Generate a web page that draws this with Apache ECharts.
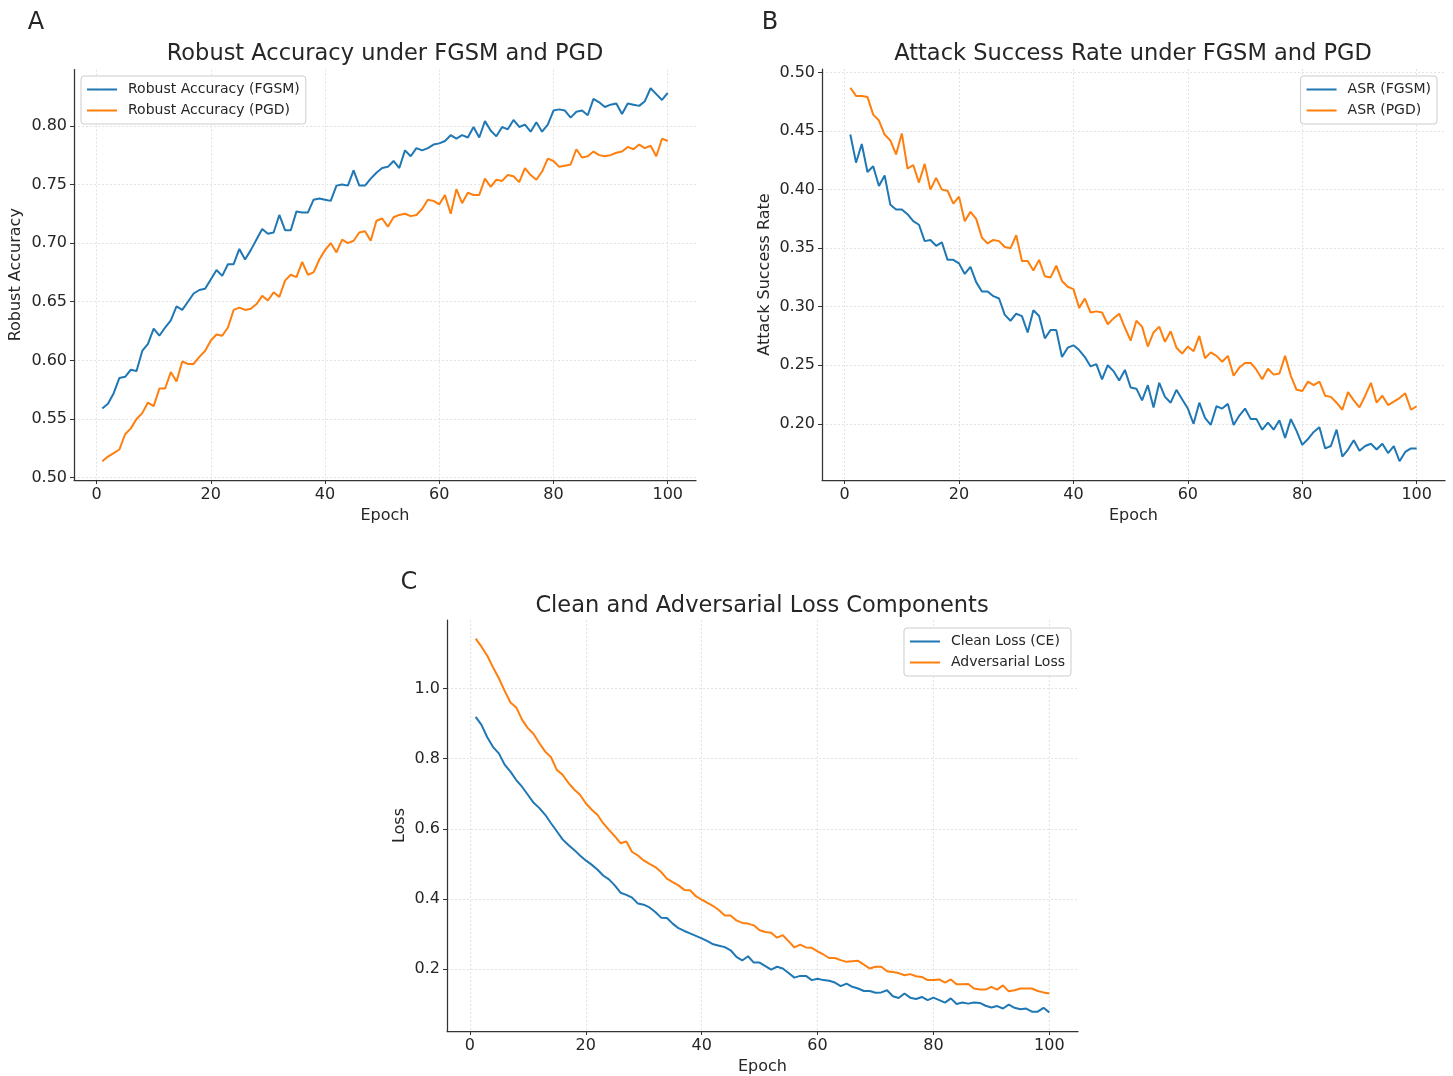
<!DOCTYPE html>
<html>
<head>
<meta charset="utf-8">
<script src="https://cdn.jsdelivr.net/npm/echarts@6/dist/echarts.min.js"></script>
<style>
html,body{margin:0;padding:0;background:#fff;}
#chart{width:1453px;height:1076px;}
</style>
</head>
<body>
<div id="chart"></div>
<script>
// ---------------- data ----------------
const epochs = Array.from({length: 100}, (_, i) => i + 1);

const robustFGSM = [
0.559,0.563,0.572,0.585,0.586,0.592,0.591,0.608,0.614,0.627,
0.621,0.628,0.634,0.646,0.643,0.650,0.657,0.660,0.661,0.669,
0.677,0.672,0.682,0.682,0.695,0.686,0.694,0.703,0.712,0.708,
0.709,0.724,0.711,0.711,0.727,0.726,0.726,0.737,0.738,0.737,
0.736,0.749,0.750,0.749,0.762,0.749,0.749,0.755,0.760,0.764,
0.765,0.770,0.764,0.779,0.774,0.781,0.779,0.781,0.784,0.785,
0.787,0.792,0.789,0.792,0.790,0.799,0.790,0.804,0.796,0.791,
0.799,0.797,0.805,0.799,0.801,0.795,0.803,0.795,0.801,0.813,
0.814,0.813,0.807,0.812,0.813,0.809,0.823,0.820,0.816,0.818,
0.819,0.810,0.819,0.818,0.817,0.821,0.832,0.827,0.822,0.828];

const robustPGD = [
0.514,0.518,0.521,0.524,0.537,0.542,0.550,0.555,0.564,0.561,
0.576,0.576,0.590,0.582,0.599,0.597,0.597,0.603,0.608,0.617,
0.622,0.621,0.628,0.643,0.645,0.643,0.644,0.648,0.655,0.651,
0.658,0.654,0.668,0.673,0.671,0.684,0.673,0.675,0.686,0.694,
0.700,0.692,0.703,0.700,0.702,0.709,0.710,0.702,0.719,0.721,
0.714,0.722,0.724,0.725,0.723,0.724,0.729,0.737,0.736,0.733,
0.741,0.725,0.746,0.734,0.743,0.741,0.741,0.755,0.748,0.754,
0.753,0.758,0.757,0.752,0.764,0.758,0.754,0.761,0.772,0.770,
0.765,0.766,0.767,0.780,0.773,0.774,0.778,0.775,0.774,0.775,
0.777,0.778,0.782,0.780,0.784,0.781,0.783,0.774,0.789,0.787];

const asrFGSM = [
0.447,0.423,0.439,0.415,0.420,0.403,0.412,0.387,0.383,0.383,
0.379,0.373,0.370,0.356,0.357,0.352,0.355,0.340,0.340,0.337,
0.328,0.334,0.321,0.313,0.313,0.309,0.307,0.293,0.288,0.294,
0.292,0.278,0.297,0.292,0.273,0.280,0.280,0.257,0.265,0.267,
0.263,0.257,0.249,0.251,0.238,0.250,0.245,0.237,0.246,0.231,
0.230,0.220,0.233,0.214,0.235,0.223,0.218,0.229,0.221,0.213,
0.200,0.218,0.205,0.199,0.215,0.213,0.217,0.199,0.207,0.213,
0.204,0.204,0.195,0.201,0.195,0.203,0.188,0.204,0.194,0.182,
0.187,0.193,0.197,0.179,0.181,0.195,0.172,0.178,0.186,0.177,
0.181,0.183,0.178,0.183,0.175,0.181,0.168,0.176,0.179,0.179];

const asrPGD = [
0.487,0.480,0.480,0.479,0.464,0.459,0.447,0.442,0.430,0.448,
0.418,0.421,0.406,0.422,0.400,0.410,0.400,0.399,0.388,0.394,
0.373,0.381,0.375,0.359,0.354,0.357,0.356,0.351,0.350,0.361,
0.339,0.339,0.331,0.340,0.326,0.325,0.335,0.322,0.317,0.315,
0.299,0.307,0.295,0.296,0.295,0.285,0.290,0.294,0.282,0.271,
0.288,0.283,0.266,0.278,0.283,0.270,0.279,0.265,0.260,0.266,
0.262,0.275,0.256,0.261,0.258,0.253,0.258,0.241,0.248,0.252,
0.252,0.246,0.238,0.247,0.242,0.243,0.258,0.241,0.229,0.228,
0.236,0.233,0.236,0.224,0.223,0.218,0.212,0.227,0.220,0.214,
0.224,0.235,0.218,0.224,0.216,0.219,0.222,0.226,0.212,0.215];

const cleanLoss = [
0.919,0.896,0.861,0.833,0.815,0.783,0.763,0.739,0.720,0.697,
0.674,0.659,0.640,0.616,0.593,0.570,0.554,0.540,0.524,0.510,
0.498,0.484,0.467,0.456,0.439,0.418,0.412,0.404,0.387,0.384,
0.376,0.363,0.347,0.346,0.330,0.317,0.309,0.302,0.295,0.288,
0.280,0.271,0.267,0.263,0.254,0.235,0.225,0.237,0.219,0.219,
0.209,0.199,0.207,0.202,0.189,0.176,0.181,0.181,0.169,0.173,
0.169,0.167,0.162,0.152,0.159,0.150,0.145,0.138,0.138,0.133,
0.134,0.140,0.123,0.118,0.131,0.119,0.115,0.121,0.112,0.119,
0.112,0.105,0.117,0.101,0.105,0.102,0.105,0.104,0.096,0.091,
0.095,0.088,0.099,0.090,0.086,0.088,0.079,0.079,0.090,0.077];

const advLoss = [
1.142,1.119,1.093,1.060,1.029,0.993,0.960,0.946,0.911,0.887,
0.870,0.844,0.820,0.804,0.768,0.754,0.731,0.712,0.697,0.673,
0.655,0.640,0.616,0.597,0.579,0.559,0.564,0.534,0.524,0.510,
0.500,0.491,0.477,0.458,0.448,0.439,0.426,0.425,0.408,0.398,
0.389,0.380,0.368,0.353,0.353,0.339,0.332,0.330,0.325,0.311,
0.306,0.304,0.290,0.297,0.280,0.262,0.270,0.262,0.261,0.251,
0.242,0.232,0.232,0.226,0.221,0.223,0.224,0.213,0.202,0.207,
0.207,0.194,0.192,0.189,0.183,0.186,0.180,0.178,0.169,0.169,
0.171,0.162,0.171,0.157,0.157,0.158,0.145,0.142,0.142,0.150,
0.142,0.154,0.137,0.140,0.145,0.145,0.145,0.138,0.134,0.131];

const xTicks = [0, 20, 40, 60, 80, 100];
const accTicks = [0.50, 0.55, 0.60, 0.65, 0.70, 0.75, 0.80];
const asrTicks = [0.20, 0.25, 0.30, 0.35, 0.40, 0.45, 0.50];
const lossTicks = [0.2, 0.4, 0.6, 0.8, 1.0];

// ---------------- styling ----------------
const FONT = 'DejaVu Sans';
const TXT = '#262626';
const AX = '#333333';
const BLUE = '#1f77b4';
const ORANGE = '#ff7f0e';

const pair = arr => epochs.map((e, i) => [e, arr[i]]);

function xAxisDef(gridIndex) {
  return {
    type: 'value', gridIndex, min: -3.95, max: 104.95,
    name: 'Epoch', nameLocation: 'middle', nameGap: 28,
    nameTextStyle: {fontFamily: FONT, fontSize: 16, color: TXT},
    axisLine: {show: true, onZero: false, lineStyle: {color: AX, width: 1.25}},
    axisTick: {show: true, length: 4, customValues: xTicks, lineStyle: {color: AX, width: 1}},
    axisLabel: {customValues: xTicks, fontFamily: FONT, fontSize: 16, color: TXT, margin: 7},
    splitLine: {show: true, lineStyle: {color: '#dcdcdc', width: 0.8, type: [2, 2]}}
  };
}
function yAxisDef(gridIndex, min, max, ticks, name, gap, dec) {
  return {
    type: 'value', gridIndex, min, max,
    name, nameLocation: 'middle', nameGap: gap,
    nameTextStyle: {fontFamily: FONT, fontSize: 16, color: TXT},
    axisLine: {show: true, onZero: false, lineStyle: {color: AX, width: 1.25}},
    axisTick: {show: true, length: 4, customValues: ticks, lineStyle: {color: AX, width: 1}},
    axisLabel: {customValues: ticks, fontFamily: FONT, fontSize: 16, color: TXT, margin: 7,
      padding: [4, 0, 0, 0], formatter: v => v.toFixed(dec)},
    splitLine: {show: true, lineStyle: {color: '#dcdcdc', width: 0.8, type: [2, 2]}}
  };
}
function lineSeries(name, data, color, idx) {
  return {
    type: 'line', name, data: pair(data), xAxisIndex: idx, yAxisIndex: idx,
    showSymbol: false, symbol: 'none', lineStyle: {color, width: 2}, itemStyle: {color},
    emphasis: {disabled: true}
  };
}
function legendDef(names, pos) {
  return Object.assign({
    data: names, orient: 'vertical',
    icon: 'rect', itemWidth: 30, itemHeight: 2, itemGap: 4,
    padding: [5, 6, 5, 6],
    borderColor: '#cccccc', borderWidth: 1, borderRadius: 3,
    backgroundColor: 'rgba(255,255,255,0.8)',
    textStyle: {fontFamily: FONT, fontSize: 14, color: TXT, lineHeight: 17, padding: [0, 0, 0, 6]},
    selectedMode: false
  }, pos);
}
function titleDef(text, x, y, size) {
  return {
    text, left: x, top: y, textAlign: 'center', textVerticalAlign: 'middle', padding: 0,
    textStyle: {fontFamily: FONT, fontSize: size, fontWeight: 'normal', color: TXT}
  };
}

const option = {
  animation: false,
  backgroundColor: '#ffffff',
  title: [
    titleDef('A', 36, 23, 24),
    titleDef('B', 770, 23, 24),
    titleDef('C', 409, 583, 24),
    titleDef('Robust Accuracy under FGSM and PGD', 385, 54, 22.5),
    titleDef('Attack Success Rate under FGSM and PGD', 1133, 54, 22.5),
    titleDef('Clean and Adversarial Loss Components', 762, 606, 22.5)
  ],
  grid: [
    {left: 74, top: 69.5, width: 622, height: 410.5},
    {left: 822, top: 69, width: 623, height: 411},
    {left: 447, top: 620, width: 631, height: 412}
  ],
  xAxis: [xAxisDef(0), xAxisDef(1), xAxisDef(2)],
  yAxis: [
    yAxisDef(0, 0.498, 0.848, accTicks, 'Robust Accuracy', 50, 2),
    yAxisDef(1, 0.152, 0.503, asrTicks, 'Attack Success Rate', 49, 2),
    yAxisDef(2, 0.024, 1.195, lossTicks, 'Loss', 39, 1)
  ],
  legend: [
    legendDef(['Robust Accuracy (FGSM)', 'Robust Accuracy (PGD)'], {left: 81, top: 76}),
    legendDef(['ASR (FGSM)', 'ASR (PGD)'], {right: 16, top: 76}),
    legendDef(['Clean Loss (CE)', 'Adversarial Loss'], {right: 382, top: 628})
  ],
  series: [
    lineSeries('Robust Accuracy (FGSM)', robustFGSM, BLUE, 0),
    lineSeries('Robust Accuracy (PGD)', robustPGD, ORANGE, 0),
    lineSeries('ASR (FGSM)', asrFGSM, BLUE, 1),
    lineSeries('ASR (PGD)', asrPGD, ORANGE, 1),
    lineSeries('Clean Loss (CE)', cleanLoss, BLUE, 2),
    lineSeries('Adversarial Loss', advLoss, ORANGE, 2)
  ]
};

const chart = echarts.init(document.getElementById('chart'), null, {renderer: 'canvas'});
chart.setOption(option);
</script>
</body>
</html>
